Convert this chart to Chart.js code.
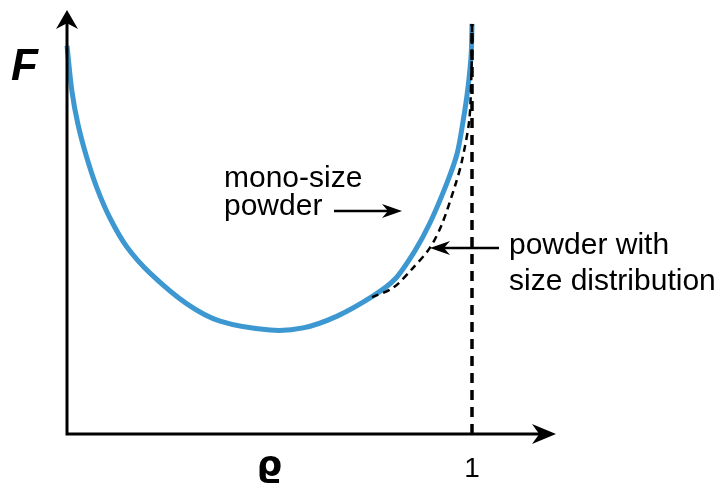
<!DOCTYPE html>
<html>
<head>
<meta charset="utf-8">
<script src="https://cdn.jsdelivr.net/npm/chart.js@4/dist/chart.umd.min.js"></script>
<style>
  html, body { margin: 0; padding: 0; background: #fff; }
  #wrap { width: 724px; height: 489px; }
</style>
</head>
<body>
<div id="wrap"><canvas id="chart"></canvas></div>
<script>
// packing density (rho) for the mono-size curve
const monoRho = [0, 0.012, 0.027, 0.049, 0.074, 0.106, 0.148, 0.205, 0.296, 0.378, 0.501, 0.583, 0.667, 0.756, 0.810, 0.859, 0.896, 0.938, 0.963, 0.978, 0.990, 0.998, 1.0]
const monoF = [9.22, 8.15, 7.36, 6.56, 5.84, 5.13, 4.44, 3.82, 3.09, 2.68, 2.47, 2.52, 2.80, 3.28, 3.68, 4.35, 5.01, 5.96, 6.65, 7.43, 8.22, 9.03, 9.74]

// powder with size distribution (branches off the mono-size curve)
const distRho = [0.753, 0.805, 0.854, 0.896, 0.926, 0.958, 0.975, 0.993, 0.998, 1.0, 1.0]
const distF = [3.25, 3.47, 3.94, 4.42, 4.99, 5.89, 6.48, 7.43, 8.38, 9.33, 9.74]

// asymptote at rho = 1
const limitRho = [1, 1]
const limitF = [0, 9.74]

const xTicks = [1]
const xTickLabels = ['1']
const yAxisTitle = 'F'
const xAxisTitle = '\u03F1'
const monoLabel = ['mono-size', 'powder']
const distLabel = ['powder with', 'size distribution']

const toPoints = (xs, ys) => xs.map((x, i) => ({ x: x, y: ys[i] }))

// draw a filled arrow head with a notched back
function arrowHead(ctx, x, y, angle, len, half) {
  ctx.save()
  ctx.translate(x, y)
  ctx.rotate(angle)
  ctx.beginPath()
  ctx.moveTo(0, 0)
  ctx.lineTo(-len, -half)
  ctx.lineTo(-len * 0.7, 0)
  ctx.lineTo(-len, half)
  ctx.closePath()
  ctx.fill()
  ctx.restore()
}

const decorations = {
  id: 'decorations',
  afterDatasetsDraw(chart) {
    const ctx = chart.ctx
    const a = chart.chartArea
    const xs = chart.scales.x
    ctx.save()
    ctx.strokeStyle = '#000'
    ctx.fillStyle = '#000'
    ctx.lineWidth = 3

    // axes
    ctx.beginPath()
    ctx.moveTo(a.left, a.top + 8)
    ctx.lineTo(a.left, a.bottom)
    ctx.lineTo(a.right - 8, a.bottom)
    ctx.stroke()
    arrowHead(ctx, a.left, a.top, -Math.PI / 2, 19, 11)
    arrowHead(ctx, a.right, a.bottom, 0, 24, 10)

    // tick labels
    ctx.font = '28px "Liberation Sans", Arial, sans-serif'
    ctx.textAlign = 'center'
    ctx.textBaseline = 'alphabetic'
    xTicks.forEach((t, i) => {
      ctx.fillText(xTickLabels[i], xs.getPixelForValue(t), a.bottom + 43)
    })

    // axis titles
    ctx.font = 'bold italic 44px "Liberation Sans", Arial, sans-serif'
    ctx.textAlign = 'left'
    ctx.fillText(yAxisTitle, 11, 80)
    ctx.font = 'bold 36px "DejaVu Sans", sans-serif'
    ctx.textAlign = 'center'
    ctx.fillText(xAxisTitle, xs.getPixelForValue(0.5), a.bottom + 42)

    // annotations
    ctx.font = '30px "Liberation Sans", Arial, sans-serif'
    ctx.textAlign = 'left'
    ctx.fillText(monoLabel[0], 224, 187)
    ctx.fillText(monoLabel[1], 224, 215)
    ctx.fillText(distLabel[0], 509, 254)
    ctx.fillText(distLabel[1], 509, 290)

    ctx.lineWidth = 2.5
    ctx.beginPath()
    ctx.moveTo(334, 211)
    ctx.lineTo(392, 211)
    ctx.stroke()
    arrowHead(ctx, 402, 211, 0, 20, 7)
    ctx.beginPath()
    ctx.moveTo(499, 248)
    ctx.lineTo(440, 248)
    ctx.stroke()
    arrowHead(ctx, 430, 248, Math.PI, 20, 7)
    ctx.restore()
  },
}

new Chart(document.getElementById('chart'), {
  type: 'scatter',
  data: {
    datasets: [
      {
        label: 'limit',
        data: toPoints(limitRho, limitF),
        showLine: true,
        borderColor: '#000',
        borderWidth: 3.5,
        borderDash: [10, 7],
        pointRadius: 0,
        clip: false,
      },
      {
        label: 'size distribution',
        data: toPoints(distRho, distF),
        showLine: true,
        borderColor: '#000',
        borderWidth: 2.5,
        borderDash: [7, 5],
        pointRadius: 0,
        tension: 0.3,
        clip: false,
      },
      {
        label: 'mono-size',
        data: toPoints(monoRho, monoF),
        showLine: true,
        borderColor: '#3d97d1',
        borderWidth: 5,
        pointRadius: 0,
        tension: 0.3,
        clip: false,
      },
    ],
  },
  options: {
    responsive: true,
    maintainAspectRatio: false,
    animation: false,
    events: [],
    layout: { padding: { left: 67, right: 168, top: 10, bottom: 55 } },
    plugins: { legend: { display: false }, tooltip: { enabled: false } },
    scales: {
      x: { type: 'linear', display: false, min: 0, max: 1.2074 },
      y: { type: 'linear', display: false, min: 0, max: 10.07 },
    },
  },
  plugins: [decorations],
})
</script>
</body>
</html>
